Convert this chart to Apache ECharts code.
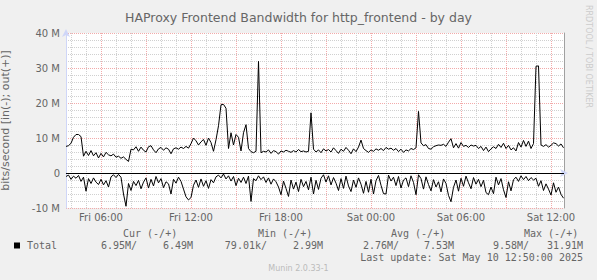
<!DOCTYPE html>
<html><head><meta charset="utf-8">
<script src="https://cdn.jsdelivr.net/npm/echarts@6/dist/echarts.min.js"></script>
<style>html,body{margin:0;padding:0;background:#F0F0F0}#c{width:597px;height:280px}</style>
</head><body><div id="c"></div>
<script>
// ---- data (values in M bits/second) ----
const startTime = Date.UTC(2025, 4, 9, 3, 40);   // Fri 03:40
const endTime = Date.UTC(2025, 4, 10, 12, 52);   // Sat 12:52
const stepMinutes = 10;
const outValues = [
  7.6, 7.8, 8.5, 10.2, 11.0, 11.0, 10.4, 4.8, 6.2, 5.0,
  6.4, 4.9, 5.8, 4.3, 5.6, 4.6, 5.9, 5.2, 4.9, 5.4,
  4.5, 4.8, 4.2, 4.6, 3.9, 3.3, 6.8, 6.6, 7.5, 6.2,
  7.4, 6.5, 6.0, 7.5, 7.8, 6.6, 5.8, 6.9, 7.3, 6.5,
  7.2, 6.8, 5.5, 6.9, 7.2, 6.8, 7.4, 7.0, 7.6, 7.1,
  8.4, 10.0, 9.2, 8.0, 8.9, 9.6, 7.9, 10.0, 8.7, 6.2,
  9.5, 13.5, 19.5, 19.6, 18.5, 7.0, 11.5, 8.0, 11.0, 10.2,
  6.3, 11.5, 13.8, 7.0, 6.1, 5.8, 6.2, 31.9, 5.8, 6.2,
  6.0, 6.6, 5.6, 6.4, 6.1, 5.4, 6.3, 6.0, 6.5, 6.2,
  5.9, 6.4, 6.0, 6.7, 6.1, 6.3, 6.0, 6.2, 17.2, 6.8,
  6.0, 6.6, 5.8, 6.9, 6.3, 6.7, 6.0, 7.2, 6.4, 5.6,
  6.8, 6.2, 7.3, 6.5, 5.5, 6.9, 6.1, 7.4, 9.4, 7.0,
  6.4, 5.9, 6.6, 6.2, 6.9, 6.5, 7.0, 6.4, 7.3, 6.8,
  7.1, 6.5, 7.0, 6.1, 6.8, 5.9, 6.6, 6.3, 7.0, 6.7,
  7.2, 17.6, 8.6, 7.8, 8.1, 7.0, 6.8, 7.5, 7.8, 8.0,
  7.9, 8.2, 7.6, 8.8, 9.8, 7.2, 8.4, 7.1, 8.7, 7.6,
  7.9, 7.3, 8.0, 7.7, 7.9, 7.0, 7.6, 6.4, 7.4, 6.1,
  6.9, 7.5, 7.0, 8.2, 7.3, 8.5, 7.0, 7.9, 6.6, 7.2,
  6.3, 8.7, 7.4, 9.3, 7.6, 9.1, 7.0, 8.4, 30.5, 30.6,
  8.0, 7.6, 8.1, 7.4, 7.9, 8.6, 8.4, 7.7, 8.3, 7.2
];
const inValues = [
  -1.0, -0.6, -1.8, -0.9, -1.5, -0.7, -2.4, -1.2, -5.2, -1.6,
  -3.0, -1.4, -2.6, -3.3, -1.8, -3.4, -2.2, -4.0, -1.1, -0.5,
  -1.3, -0.4, -1.2, -6.0, -9.5, -3.0, -5.0, -2.4, -3.6, -2.1,
  -4.5, -2.6, -1.4, -4.3, -1.8, -3.7, -1.0, -2.8, -1.6, -4.2,
  -2.5, -3.1, -6.0, -1.8, -2.9, -1.2, -2.4, -4.6, -6.8, -7.7,
  -7.0, -3.5, -2.0, -4.1, -1.7, -3.8, -2.2, -4.4, -1.9, -2.8,
  -1.1, -0.6, -1.4, -0.3, -1.7, -0.8, -2.3, -1.0, -3.6, -1.5,
  -2.7, -1.2, -3.0, -0.9, -8.1, -1.6, -2.2, -0.8, -1.9, -1.1,
  -2.7, -1.4, -3.2, -1.7, -2.5, -4.0, -6.2, -2.3, -4.4, -6.7,
  -2.0, -4.6, -2.6, -5.3, -1.8, -3.9, -2.4, -4.8, -1.2, -6.0,
  -2.1, -4.7, -1.5, -0.5, -2.6, -0.8, -3.4, -1.3, -2.9, -5.0,
  -1.6, -4.4, -0.9, -3.7, -5.3, -2.0, -4.1, -1.4, -3.2, -5.8,
  -2.4, -5.5, -1.8, -6.0, -2.2, -0.7, -3.5, -5.9, -6.0, -0.6,
  -2.3, -1.2, -3.6, -1.0, -4.3, -2.0, -1.4, -3.9, -0.8, -2.7,
  -6.2, -0.5, -1.6, -4.6, -1.1, -3.3, -5.1, -1.9, -4.0, -2.5,
  -5.4, -1.7, -3.0, -6.4, -8.2, -4.1, -2.0, -5.2, -1.5, -3.8,
  -0.9, -2.8, -4.5, -1.3, -3.2, -1.8, -3.9, -2.1, -5.6, -6.2,
  -4.0, -5.9, -1.2, -3.4, -1.6, -4.8, -7.0, -2.5, -5.1, -1.9,
  -1.2, -2.4, -0.8, -1.9, -1.0, -2.2, -1.3, -2.0, -1.5, -3.8,
  -2.2, -5.0, -3.1, -4.6, -6.3, -2.8, -5.5, -4.0, -6.1, -7.2
];
const yTicks = [-10, 0, 10, 20, 30, 40];
const yTickLabels = ['-10 M', '0', '10 M', '20 M', '30 M', '40 M'];
const xTickLabels = ['Fri 06:00', 'Fri 12:00', 'Fri 18:00', 'Sat 00:00', 'Sat 06:00', 'Sat 12:00'];
const xTickTimes = [
  Date.UTC(2025, 4, 9, 6), Date.UTC(2025, 4, 9, 12), Date.UTC(2025, 4, 9, 18),
  Date.UTC(2025, 4, 10, 0), Date.UTC(2025, 4, 10, 6), Date.UTC(2025, 4, 10, 12)
];
const legendHeaders = ['Cur (-/+)', 'Min (-/+)', 'Avg (-/+)', 'Max (-/+)'];
const legendIn = ['6.95M/', '79.01k/', '2.76M/', '9.58M/'];
const legendOut = ['6.49M', '2.99M', '7.53M', '31.91M'];
const seriesName = 'Total';
const titleText = 'HAProxy Frontend Bandwidth for http_frontend - by day';
const yAxisName = 'bits/second [in(-); out(+)]';
const lastUpdate = 'Last update: Sat May 10 12:50:00 2025';
const footer = 'Munin 2.0.33-1';
const sideText = 'RRDTOOL / TOBI OETIKER';

// ---- build ----
const H = 3600 * 1000;
const gridTimes = [];   // [time, isMajor]
for (let t = Date.UTC(2025, 4, 9, 4); t <= endTime; t += H) {
  gridTimes.push([t, ((t - Date.UTC(2025, 4, 9, 0)) / H) % 3 === 0 ? 1 : 0]);
}
const outData = outValues.map((v, i) => [startTime + i * stepMinutes * 60000, v]);
const inData = inValues.map((v, i) => [startTime + i * stepMinutes * 60000, v]);

const FONT = 'DejaVu Sans';
const MONO = 'DejaVu Sans Mono';
const TXT = '#666666';
const AXISC = '#CFD6F8';
const MINORC = '#D0D0D0';
const MAJORC = '#F2AAAA';
const gridMinor = { show: true, lineStyle: { color: MINORC, type: [1, 1], width: 1 } };
const gridMajor = { show: true, lineStyle: { color: MAJORC, type: [1, 1], width: 1 } };

const legendGraphics = [];
const hdrX = [123, 258, 391, 524];
const inX = [137, 267, 399, 529];
const outX = [193, 323, 454, 583];
legendHeaders.forEach((h, k) => legendGraphics.push({ type: 'text', x: hdrX[k], y: 233.5,
  style: { text: h, font: '10px ' + MONO, fill: TXT, textVerticalAlign: 'middle', textAlign: 'left' } }));
legendIn.forEach((s, k) => legendGraphics.push({ type: 'text', x: inX[k], y: 245.5,
  style: { text: s, font: '10px ' + MONO, fill: TXT, textVerticalAlign: 'middle', textAlign: 'right' } }));
legendOut.forEach((s, k) => legendGraphics.push({ type: 'text', x: outX[k], y: 245.5,
  style: { text: s, font: '10px ' + MONO, fill: TXT, textVerticalAlign: 'middle', textAlign: 'right' } }));
legendGraphics.push({ type: 'rect', shape: { x: 14, y: 242.5, width: 6, height: 6 }, style: { fill: '#000' } });
legendGraphics.push({ type: 'text', x: 27, y: 245.5,
  style: { text: seriesName, font: '10px ' + MONO, fill: TXT, textVerticalAlign: 'middle', textAlign: 'left' } });
legendGraphics.push({ type: 'text', x: 583, y: 257.5,
  style: { text: lastUpdate, font: '10px ' + MONO, fill: TXT, textVerticalAlign: 'middle', textAlign: 'right' } });
legendGraphics.push({ type: 'text', x: 298.5, y: 268.5,
  style: { text: footer, font: '8px ' + FONT, fill: '#BBBBBB', textVerticalAlign: 'middle', textAlign: 'center' } });
legendGraphics.push({ type: 'text', x: 588.5, y: 5, rotation: -Math.PI / 2,
  style: { text: sideText, font: '8px ' + FONT, fill: '#CCCCCC', textVerticalAlign: 'middle', textAlign: 'left' } });

const chart = echarts.init(document.getElementById('c'), null, { renderer: 'svg', width: 597, height: 280 });
chart.setOption({
  backgroundColor: '#F0F0F0',
  animation: false,
  title: { text: titleText, left: 'center', top: 6,
    textStyle: { fontFamily: FONT, fontSize: 12.5, fontWeight: 'normal', color: TXT } },
  grid: { left: 66, top: 33, width: 498, height: 175, show: true, backgroundColor: '#FFFFFF', borderWidth: 0,
    containLabel: false, outerBoundsMode: 'none' },
  xAxis: [
    { type: 'value', min: startTime, max: endTime, position: 'bottom',
      axisLine: { show: true, lineStyle: { color: AXISC, width: 1 }, symbol: ['none', 'arrow'], symbolSize: [6, 8], symbolOffset: [0, 4] },
      axisTick: { show: false },
      axisLabel: { show: true, customValues: xTickTimes, margin: 4, fontFamily: FONT, fontSize: 10, color: TXT,
        formatter: v => xTickLabels[xTickTimes.indexOf(v)] || '' },
      splitLine: { show: false } }
  ],
  yAxis: [
    { type: 'value', min: -10, max: 40, interval: 2, position: 'left',
      name: yAxisName, nameLocation: 'middle', nameRotate: 90, nameGap: 55,
      nameTextStyle: { fontFamily: FONT, fontSize: 11, lineHeight: 11, color: TXT },
      axisLine: { show: true, lineStyle: { color: AXISC, width: 1 }, symbol: ['none', 'arrow'], symbolSize: [6, 8], symbolOffset: [0, 4] },
      axisTick: { show: false }, axisLabel: { show: false }, splitLine: gridMinor },
    { type: 'value', min: -10, max: 40, interval: 10, position: 'left',
      axisLine: { show: false }, axisTick: { show: false },
      axisLabel: { show: true, margin: 6, fontFamily: FONT, fontSize: 10, color: TXT,
        formatter: v => yTickLabels[yTicks.indexOf(v)] },
      splitLine: gridMajor },
    { type: 'value', min: -10, max: 40, position: 'right',
      axisLine: { show: true, lineStyle: { color: '#A0A0A0', width: 1 } },
      axisTick: { show: false }, axisLabel: { show: false }, splitLine: { show: false } }
  ],
  series: [
    { name: 'grid', type: 'custom', data: gridTimes, z: 1, silent: true, clip: false,
      renderItem: (params, api) => {
        const t = api.value(0);
        const top = api.coord([t, 40]);
        const bot = api.coord([t, -10]);
        const x = Math.round(top[0]) + 0.5;
        return { type: 'line', silent: true,
          shape: { x1: x, y1: top[1], x2: x, y2: bot[1] },
          style: { stroke: api.value(1) ? MAJORC : MINORC, lineWidth: 1, lineDash: [1, 1] } };
      } },
    { name: seriesName + ' out', type: 'line', data: outData, showSymbol: false, symbol: 'none',
      lineStyle: { color: '#000', width: 1 }, itemStyle: { color: '#000' }, z: 3,
      markLine: { z: 4, silent: true, symbol: 'none', label: { show: false },
        lineStyle: { color: '#000', width: 1, type: 'solid' }, data: [{ yAxis: 0 }] } },
    { name: seriesName + ' in', type: 'line', data: inData, showSymbol: false, symbol: 'none',
      lineStyle: { color: '#000', width: 1 }, itemStyle: { color: '#000' }, z: 3 }
  ],
  graphic: legendGraphics
});
</script></body></html>
